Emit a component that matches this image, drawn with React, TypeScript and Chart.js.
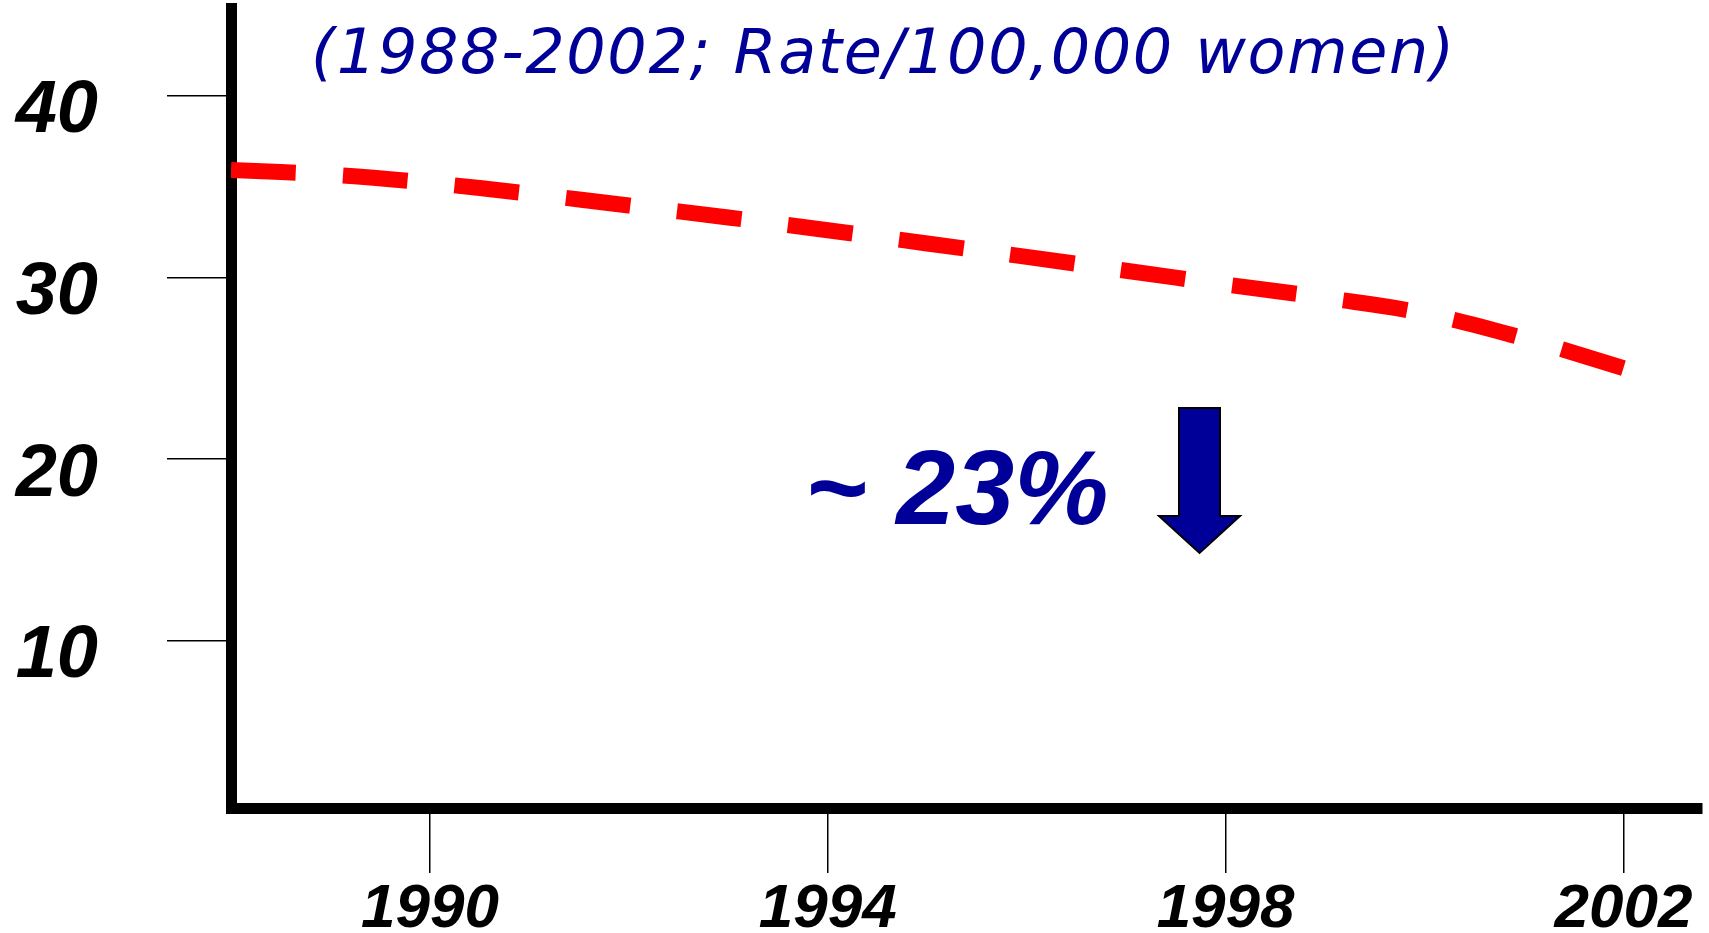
import React, { useEffect, useRef } from 'react';
import { Chart, registerables } from 'chart.js';

Chart.register(...registerables);

// ---- data ----
const years = [1988, 1989, 1990, 1991, 1992, 1993, 1994, 1995, 1996, 1997, 1998, 1999, 2000, 2001, 2002];
const rates = [35.91, 35.66, 35.2, 34.61, 33.96, 33.3, 32.6, 31.87, 31.13, 30.37, 29.61, 28.88, 28.02, 26.65, 25.01];
const xTickYears = [1990, 1994, 1998, 2002];
const yTickValues = [10, 20, 30, 40];
const titleText = '(1988-2002; Rate/100,000 women)';
const changeText = '~ 23%';

const NAVY = '#000099';
const LABEL_FAMILY = '"Liberation Sans", Arial, sans-serif';

const annotationPlugin = {
  id: 'annotations',
  afterDraw(chart: any) {
    const ctx = chart.ctx as CanvasRenderingContext2D;
    ctx.save();
    // subtitle
    ctx.fillStyle = NAVY;
    ctx.font = 'italic 62px "DejaVu Sans", Verdana, sans-serif';
    ctx.textBaseline = 'alphabetic';
    ctx.textAlign = 'left';
    const targetW = 1143;
    const w0 = ctx.measureText(titleText).width;
    const spacing = Math.max(0, (targetW - w0) / (titleText.length - 1));
    (ctx as any).letterSpacing = spacing.toFixed(2) + 'px';
    ctx.fillText(titleText, 311, 73);
    (ctx as any).letterSpacing = '0px';

    // change label
    ctx.font = 'italic bold 106px ' + LABEL_FAMILY;
    ctx.fillText(changeText, 805, 524);

    // down arrow
    ctx.beginPath();
    ctx.moveTo(1179, 408);
    ctx.lineTo(1220, 408);
    ctx.lineTo(1220, 516);
    ctx.lineTo(1240, 516);
    ctx.lineTo(1199.5, 553);
    ctx.lineTo(1159, 516);
    ctx.lineTo(1179, 516);
    ctx.closePath();
    ctx.fillStyle = NAVY;
    ctx.fill();
    ctx.lineWidth = 2;
    ctx.strokeStyle = '#000000';
    ctx.stroke();
    ctx.restore();
  },
};

export default function App() {
  const canvasRef = useRef<HTMLCanvasElement | null>(null);

  useEffect(() => {
    if (!canvasRef.current) return;
    const chart = new Chart(canvasRef.current, {
      type: 'line',
      data: {
        datasets: [
          {
            data: years.map((y, i) => ({ x: y, y: rates[i] })),
            borderColor: '#FF0000',
            borderWidth: 16,
            borderDash: [65, 47],
            borderCapStyle: 'butt',
            pointRadius: 0,
            tension: 0.4,
            fill: false,
          },
        ],
      },
      options: {
        responsive: false,
        animation: false,
        events: [],
        layout: { padding: { top: 8, right: 7, left: 0, bottom: 0 } },
        plugins: {
          legend: { display: false },
          tooltip: { enabled: false },
          title: { display: false },
        },
        scales: {
          x: {
            type: 'linear',
            min: 1988,
            max: 2002.79,
            afterBuildTicks: (s: any) => {
              s.ticks = xTickYears.map((v) => ({ value: v }));
            },
            afterFit: (s: any) => {
              s.height = 125;
              s.paddingLeft = 0;
              s.paddingRight = 0;
            },
            ticks: {
              callback: (v: any) => String(v),
              color: '#000000',
              font: { family: LABEL_FAMILY, size: 62, weight: 'bold', style: 'italic', lineHeight: 1 },
              padding: 6,
              maxRotation: 0,
              autoSkip: false,
            },
            grid: {
              drawOnChartArea: false,
              drawTicks: true,
              tickLength: 65,
              color: '#000000',
              lineWidth: 1.5,
            },
            border: { display: true, color: '#000000', width: 11 },
          },
          y: {
            type: 'linear',
            min: 0.8,
            max: 44.83,
            afterBuildTicks: (s: any) => {
              s.ticks = yTickValues.map((v) => ({ value: v }));
            },
            afterFit: (s: any) => {
              s.width = 231;
              s.paddingTop = 0;
              s.paddingBottom = 0;
            },
            ticks: {
              callback: (v: any) => String(v),
              color: '#000000',
              font: { family: LABEL_FAMILY, size: 74, weight: 'bold', style: 'italic', lineHeight: 1 },
              padding: 69,
              labelOffset: 16,
            },
            grid: {
              drawOnChartArea: false,
              drawTicks: true,
              tickLength: 64,
              color: '#000000',
              lineWidth: 1.5,
            },
            border: { display: true, color: '#000000', width: 11 },
          },
        },
      } as any,
      plugins: [annotationPlugin],
    });
    return () => chart.destroy();
  }, []);

  return (
    <div style={{ position: 'fixed', left: 0, top: 0, width: 1709, height: 933, background: '#ffffff' }}>
      <canvas ref={canvasRef} width={1709} height={933} style={{ display: 'block' }} />
    </div>
  );
}
